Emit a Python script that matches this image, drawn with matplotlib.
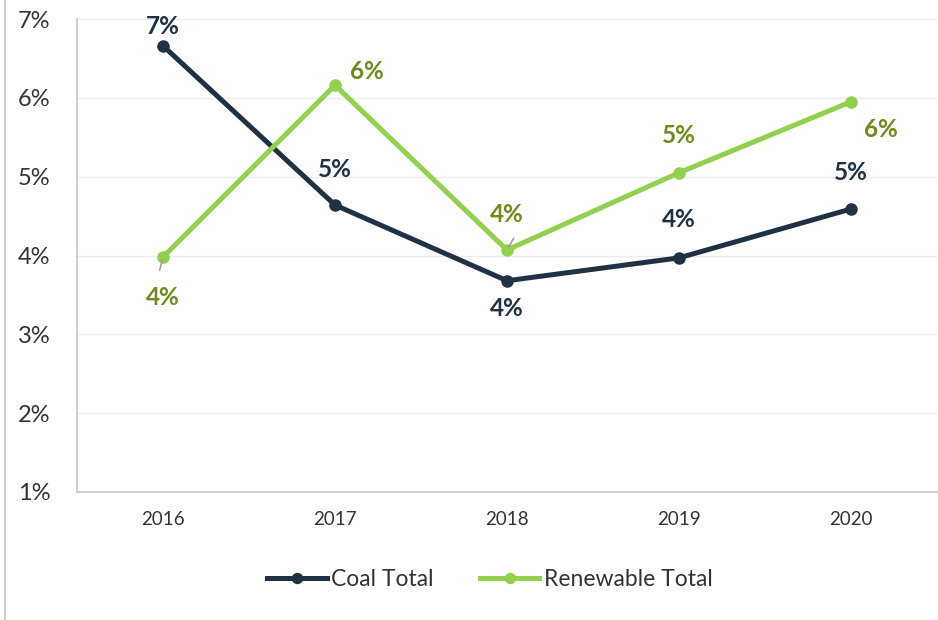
import matplotlib
matplotlib.use("Agg")
import matplotlib.pyplot as plt
from matplotlib.ticker import FuncFormatter

years = ["2016", "2017", "2018", "2019", "2020"]
coal = [6.66, 4.64, 3.68, 3.97, 4.59]
renew = [3.98, 6.16, 4.07, 5.05, 5.95]
coal_labels = ["7%", "5%", "4%", "4%", "5%"]
renew_labels = ["4%", "6%", "4%", "5%", "6%"]

plt.rcParams['font.family'] = ['Lato', 'DejaVu Sans']

coal_c = "#1f3142"
renew_c = "#92d050"
renew_txt = "#6f8a1f"

fig = plt.figure(figsize=(9.38, 6.2), dpi=100)
ax = fig.add_axes([77 / 938, 1 - 492 / 620, (937 - 77) / 938, (492 - 19) / 620])

x = list(range(len(years)))
ax.plot(x, coal, color=coal_c, lw=3.6, marker='o', ms=8, label="Coal Total", zorder=3)
ax.plot(x, renew, color=renew_c, lw=3.6, marker='o', ms=8, label="Renewable Total", zorder=3)

ax.set_xlim(-0.5, 4.5)
ax.set_ylim(1, 7)
ax.set_yticks([1, 2, 3, 4, 5, 6, 7])
ax.yaxis.set_major_formatter(FuncFormatter(lambda v, p: f"{int(v)}%"))
ax.set_xticks(x)
ax.set_xticklabels(years)
ax.grid(axis='y', color="#ececec", lw=1)
ax.set_axisbelow(True)
for s in ['top', 'right']:
    ax.spines[s].set_visible(False)
for s in ['left', 'bottom']:
    ax.spines[s].set_color("#c8c8c8")
    ax.spines[s].set_linewidth(1.2)
ax.tick_params(axis='y', length=0, labelsize=17, labelcolor="#333333", pad=19)
ax.tick_params(axis='x', length=0, labelsize=13.5, labelcolor="#333333", pad=14)

# data labels (offsets in pixels)
coal_off = [(0, 19), (0, 36), (0, -28), (0, 38), (0, 36)]
renew_off = [(0, -40), (32, 14), (0, 35), (0, 37), (30, -28)]
for i in x:
    ax.annotate(coal_labels[i], (i, coal[i]), xytext=coal_off[i], textcoords='offset pixels',
                ha='center', va='center', fontsize=17.5, fontweight='bold', color=coal_c)
    ax.annotate(renew_labels[i], (i, renew[i]), xytext=renew_off[i], textcoords='offset pixels',
                ha='center', va='center', fontsize=17.5, fontweight='bold', color=renew_txt)

# leader lines
ax.annotate("", (0, renew[0]), xytext=(-4, -16), textcoords='offset pixels',
            arrowprops=dict(arrowstyle='-', color="#a0a0a0", lw=1.2))
ax.annotate("", (2, renew[2]), xytext=(8, 14), textcoords='offset pixels',
            arrowprops=dict(arrowstyle='-', color="#a0a0a0", lw=1.2))

leg = fig.legend(loc='center', bbox_to_anchor=(490 / 938, 1 - 580 / 620), ncol=2, frameon=False,
                 fontsize=16.5, handlelength=2.6, columnspacing=2.0, handletextpad=0.2,
                 markerscale=0.9)
for t in leg.get_texts():
    t.set_color("#333333")

fig.add_artist(plt.Line2D([5 / 938, 5 / 938], [0, 1], color="#c8c8c8", lw=1.2, transform=fig.transFigure))

fig.savefig("out.png", dpi=100)
